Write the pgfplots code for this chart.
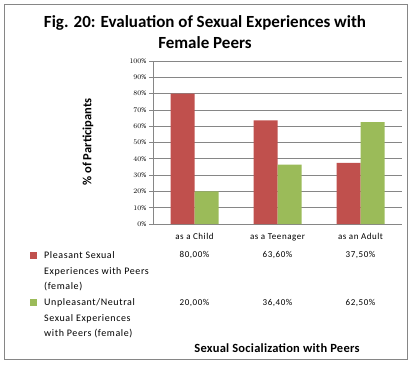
\documentclass[border=0pt]{standalone}
\usepackage{fontspec}
\setmainfont{Carlito}
\newfontfamily\spaced[LetterSpace=6]{Carlito}
\usepackage{pgfplots}
\pgfplotsset{compat=1.18}
\definecolor{xred}{HTML}{C0504D}
\definecolor{xgreen}{HTML}{9BBB59}
\definecolor{xgrid}{HTML}{868686}
\begin{document}
\begin{tikzpicture}
\useasboundingbox (0,0) rectangle (411pt,-365pt);
\draw[xgrid, line width=1pt] (4.5pt,-4.5pt) rectangle (407.5pt,-359.5pt);
\node[font=\fontsize{17}{21}\selectfont\bfseries, align=center] at (205pt,-32.5pt) {Fig. 20: Evaluation of Sexual Experiences with\\Female Peers};
\begin{axis}[
  at={(153pt,-224pt)}, anchor=south west,
  scale only axis, width=249pt, height=163pt, clip=false,
  ybar=0pt, bar width=24pt,
  xmin=-0.5, xmax=2.5, ymin=0, ymax=100,
  xtick={0,1,2}, xticklabels={as a Child, as a Teenager, as an Adult},
  ytick={0,10,...,100}, yticklabel={\pgfmathprintnumber{\tick}\%},
  axis x line*=bottom, axis y line*=left,
  axis line style={xgrid, -, line width=0.8pt},
  ymajorgrids, grid style={xgrid, line width=0.8pt},
  tick align=outside, major tick length=4pt, tick style={xgrid, line width=0.8pt},
  xtick style={draw=none},
  y tick label style={font=\spaced\fontsize{7}{8}\selectfont, xshift=1pt},
  x tick label style={font=\spaced\fontsize{9}{10}\selectfont, yshift=-2pt},
  ylabel={\% of Participants},
  every axis y label/.style={at={(axis description cs:-0.261,0.503)}, rotate=90, anchor=center, font=\bfseries\fontsize{12.5}{14}\selectfont},
  xlabel={Sexual Socialization with Peers},
  every axis x label/.style={at={(axis description cs:0.498,-0.761)}, anchor=center, font=\bfseries\fontsize{12.5}{14}\selectfont\addfontfeature{LetterSpace=2}},
  legend style={at={(axis description cs:-0.494,-0.163)}, anchor=north west, draw=none, fill=none, inner sep=0pt,
    font=\spaced\fontsize{10}{15.5}\selectfont, row sep=5.2pt, column sep=6.5pt,
    cells={align=left, anchor=north west}, nodes={inner sep=1pt}},
  legend image code/.code={\fill[#1] (0pt,-8pt) rectangle (6.5pt,-1.5pt);},
]
\addplot[fill=xred, draw=none] coordinates {(0,80.0) (1,63.6) (2,37.5)};
\addplot[fill=xgreen, draw=none] coordinates {(0,20.0) (1,36.4) (2,62.5)};
\addlegendentry{Pleasant Sexual\\Experiences with Peers\\(female)}
\addlegendentry{Unpleasant/Neutral\\Sexual Experiences\\with Peers (female)}
\begin{scope}[every node/.style={font=\spaced\fontsize{9}{10}\selectfont}]
\node[yshift=-31pt] at (axis cs:0,0) {80,00\%};
\node[yshift=-31pt] at (axis cs:1,0) {63,60\%};
\node[yshift=-31pt] at (axis cs:2,0) {37,50\%};
\node[yshift=-79pt] at (axis cs:0,0) {20,00\%};
\node[yshift=-79pt] at (axis cs:1,0) {36,40\%};
\node[yshift=-79pt] at (axis cs:2,0) {62,50\%};
\end{scope}
\end{axis}
\end{tikzpicture}
\end{document}
